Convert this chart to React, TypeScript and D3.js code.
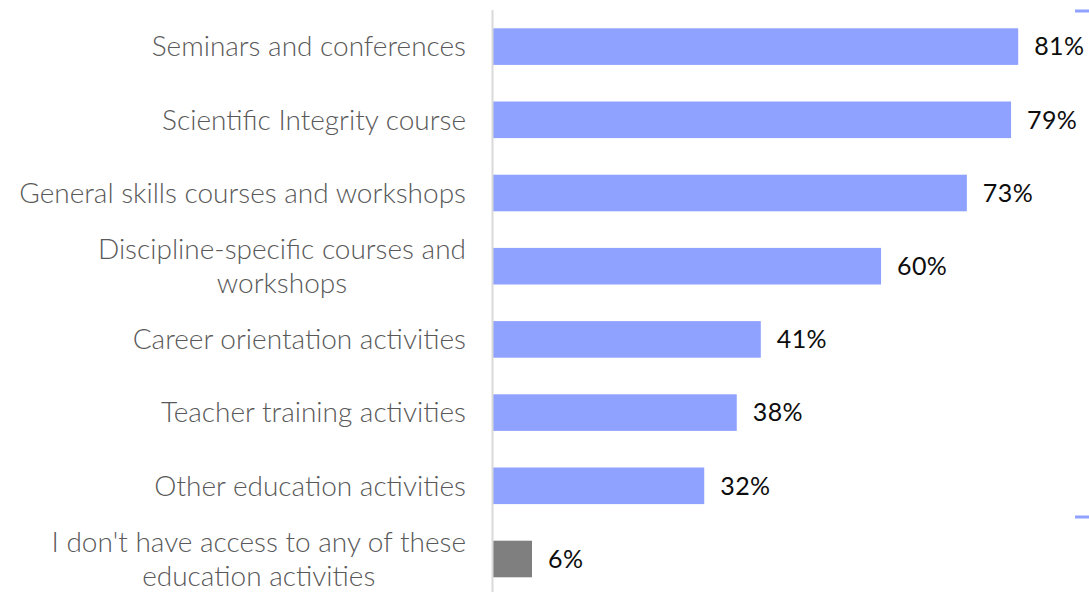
import React, { useEffect, useRef } from "react";
import * as d3 from "d3";

const categories: string[][] = [
  ["Seminars and conferences"],
  ["Scientific Integrity course"],
  ["General skills courses and workshops"],
  ["Discipline-specific courses and", "workshops"],
  ["Career orientation activities"],
  ["Teacher training activities"],
  ["Other education activities"],
  ["I don't have access to any of these", "education activities"],
];
const values: number[] = [80.8, 79.7, 72.9, 59.7, 41.2, 37.5, 32.5, 6.0];
const labels: string[] = ["81%", "79%", "73%", "60%", "41%", "38%", "32%", "6%"];
const colors: string[] = ["#8fa2ff", "#8fa2ff", "#8fa2ff", "#8fa2ff", "#8fa2ff", "#8fa2ff", "#8fa2ff", "#7f7f7f"];

const W = 1089;
const H = 592;
const FONT = "Lato, 'Noto Sans', sans-serif";

export default function App() {
  const ref = useRef<SVGSVGElement>(null);
  useEffect(() => {
    const svg = d3.select(ref.current);
    svg.selectAll("*").remove();
    const x0 = 493;
    const x = d3.scaleLinear().domain([0, 100]).range([x0, x0 + 650]);
    const y = d3
      .scaleBand<number>()
      .domain(d3.range(categories.length))
      .range([10, 595.6])
      .paddingInner(0.5)
      .paddingOuter(0.25);

    svg
      .selectAll("rect.bar")
      .data(values)
      .join("rect")
      .attr("class", "bar")
      .attr("x", x(0))
      .attr("y", (_, i) => y(i)!)
      .attr("width", (d) => x(d) - x(0))
      .attr("height", y.bandwidth())
      .attr("fill", (_, i) => colors[i]);

    svg
      .append("line")
      .attr("x1", 492.5)
      .attr("x2", 492.5)
      .attr("y1", 10)
      .attr("y2", H)
      .attr("stroke", "#d9d9d9")
      .attr("stroke-width", 2);

    svg
      .selectAll("text.val")
      .data(values)
      .join("text")
      .attr("class", "val")
      .attr("x", (d) => x(d) + 16)
      .attr("y", (_, i) => y(i)! + y.bandwidth() / 2)
      .attr("dy", "0.35em")
      .attr("font-family", FONT)
      .attr("font-size", 25)
      .attr("font-weight", 400)
      .attr("letter-spacing", 0.4)
      .attr("fill", "#0d0d0d")
      .text((_, i) => labels[i]);

    const right = 466;
    const lh = 34;
    categories.forEach((lines, i) => {
      const cy = y(i)! + y.bandwidth() / 2;
      const g = svg.append("g");
      if (lines.length === 1) {
        g.append("text")
          .attr("x", right)
          .attr("y", cy)
          .attr("dy", "0.35em")
          .attr("text-anchor", "end")
          .attr("font-family", FONT)
          .attr("font-size", 28)
          .attr("font-weight", 300)
          .attr("fill", "#595959")
          .text(lines[0]);
      } else {
        const t = g
          .append("text")
          .attr("font-family", FONT)
          .attr("font-size", 28)
          .attr("font-weight", 300)
          .attr("fill", "#595959")
          .attr("text-anchor", "middle");
        lines.forEach((l, j) => {
          t.append("tspan")
            .attr("y", cy + (j - (lines.length - 1) / 2) * lh)
            .attr("dy", "0.35em")
            .text(l);
        });
        let maxW = 0;
        t.selectAll<SVGTSpanElement, unknown>("tspan").each(function () {
          maxW = Math.max(maxW, this.getComputedTextLength());
        });
        t.selectAll("tspan").attr("x", right - maxW / 2);
      }
    });

    [11, 517].forEach((yy) => {
      svg
        .append("line")
        .attr("x1", 1075)
        .attr("x2", W)
        .attr("y1", yy)
        .attr("y2", yy)
        .attr("stroke", "#8fa2ff")
        .attr("stroke-width", 3);
    });
  }, []);
  return (
    <svg
      ref={ref}
      width={W}
      height={H}
      style={{ position: "absolute", left: 0, top: 0, background: "#fff" }}
    />
  );
}
